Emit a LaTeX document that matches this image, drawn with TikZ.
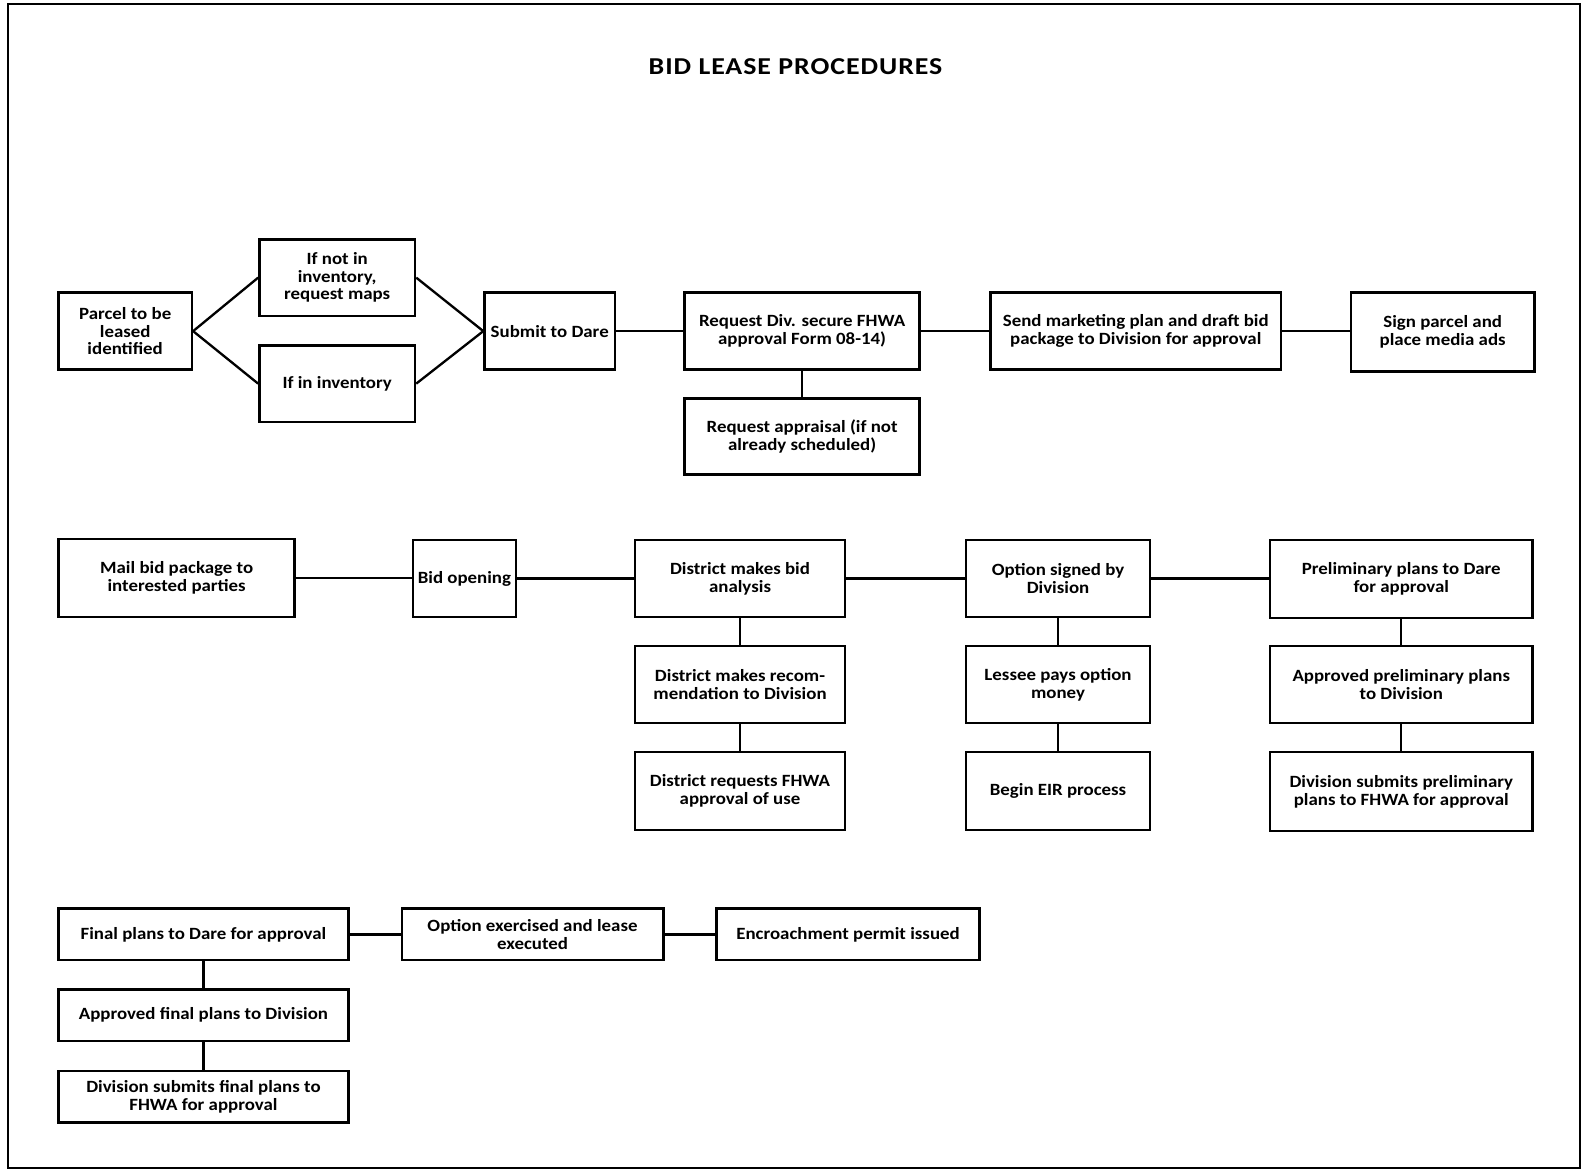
\documentclass[tikz,border=0pt]{standalone}
\usepackage{fontspec}
\setmainfont{Carlito}
\newfontfamily\boxfont[FakeStretch=1.1]{Carlito}
\newfontfamily\titlefont[FakeStretch=1.15,LetterSpace=4]{Carlito}
\begin{document}
\begin{tikzpicture}[x=1pt,y=-1pt,
  bx/.style={draw, line width=2.6pt, rectangle, align=center, inner sep=2pt,
    font=\boxfont\fontsize{17}{17.5}\selectfont\bfseries},
  ln/.style={line width=2.3pt}]
\useasboundingbox (0,0) rectangle (1568,1160);
\draw[line width=1.6pt] (8,4) rectangle (1565,1157);
\node (title) at (788,66) {\titlefont\fontsize{24}{28}\selectfont\bfseries BID LEASE PROCEDURES};
% Row 1
\node[bx, minimum width=132, minimum height=76] (parcel) at (124,328) {Parcel to be\\leased\\identified};
\node[bx, minimum width=154, minimum height=76] (ifnot) at (334,275) {If not in\\inventory,\\request maps};
\node[bx, minimum width=154, minimum height=76] (ifin) at (334,380) {If in inventory};
\node[bx, minimum width=129, minimum height=76] (submit) at (544.5,328) {Submit to Dare};
\node[bx, minimum width=233, minimum height=76] (reqdiv) at (794.5,328) {Request Div. secure FHWA\\approval Form 08-14)};
\node[bx, minimum width=233, minimum height=75] (apprais) at (794.5,432.5) {Request appraisal (if not\\already scheduled)};
\node[bx, minimum width=288, minimum height=76] (send) at (1125,328) {Send marketing plan and draft bid\\package to Division for approval};
\node[bx, minimum width=182, minimum height=78] (sign) at (1429,329) {Sign parcel and\\place media ads};
\draw[ln] (parcel.east) -- (ifnot.west);
\draw[ln] (parcel.east) -- (ifin.west);
\draw[ln] (ifnot.east) -- (submit.west);
\draw[ln] (ifin.east) -- (submit.west);
\draw[ln] (submit) -- (reqdiv);
\draw[ln] (reqdiv) -- (send);
\draw[ln] (send.east) -- (sign.west |- send.east);
\draw[ln] (reqdiv) -- (apprais);
% Row 2
\node[bx, minimum width=234, minimum height=77] (mail) at (175,572.5) {Mail bid package to\\interested parties};
\node[bx, minimum width=102, minimum height=76] (bidopen) at (460,573) {Bid opening};
\node[bx, minimum width=208, minimum height=76] (analysis) at (733,573) {District makes bid\\analysis};
\node[bx, minimum width=208, minimum height=76] (recom) at (733,678) {District makes recom-\\mendation to Division};
\node[bx, minimum width=208, minimum height=77] (fhwause) at (733,783.5) {District requests FHWA\\approval of use};
\node[bx, minimum width=182, minimum height=76] (optsig) at (1048,573) {Option signed by\\Division};
\node[bx, minimum width=182, minimum height=76] (lessee) at (1048,678) {Lessee pays option\\money};
\node[bx, minimum width=182, minimum height=77] (eir) at (1048,783.5) {Begin EIR process};
\node[bx, minimum width=260, minimum height=77] (prelim) at (1388,573.5) {Preliminary plans to Dare\\for approval};
\node[bx, minimum width=260, minimum height=76] (apprelim) at (1388,678) {Approved preliminary plans\\to Division};
\node[bx, minimum width=260, minimum height=78] (divprelim) at (1388,784) {Division submits preliminary\\plans to FHWA for approval};
\draw[ln] (mail.east) -- (bidopen.west |- mail.east);
\draw[ln] (bidopen) -- (analysis);
\draw[ln] (analysis) -- (optsig);
\draw[ln] (optsig) -- (prelim.west |- optsig.east);
\draw[ln] (analysis) -- (recom);
\draw[ln] (recom) -- (fhwause);
\draw[ln] (optsig) -- (lessee);
\draw[ln] (lessee) -- (eir);
\draw[ln] (prelim) -- (apprelim);
\draw[ln] (apprelim) -- (divprelim);
% Row 3
\node[bx, minimum width=287, minimum height=51] (final) at (201.5,925.5) {Final plans to Dare for approval};
\node[bx, minimum width=287, minimum height=51] (apfinal) at (201.5,1005.5) {Approved final plans to Division};
\node[bx, minimum width=287, minimum height=51] (divfinal) at (201.5,1086.5) {Division submits final plans to\\FHWA for approval};
\node[bx, minimum width=259, minimum height=51] (optex) at (527.5,925.5) {Option exercised and lease\\executed};
\node[bx, minimum width=260, minimum height=51] (encr) at (840,925.5) {Encroachment permit issued};
\draw[ln] (final) -- (optex);
\draw[ln] (optex) -- (encr);
\draw[ln] (final) -- (apfinal);
\draw[ln] (apfinal) -- (divfinal);
\end{tikzpicture}
\end{document}
